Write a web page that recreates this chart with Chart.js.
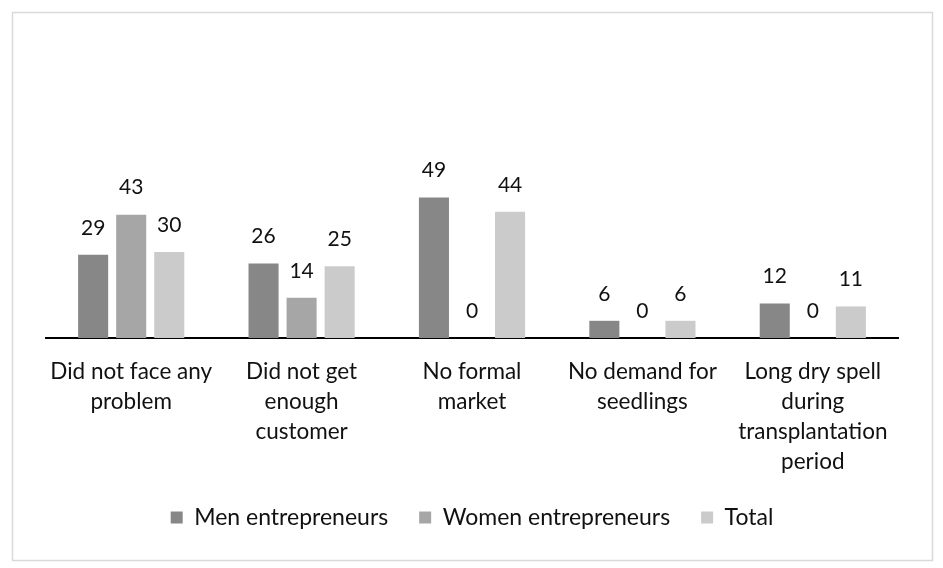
<!DOCTYPE html>
<html>
<head>
<meta charset="utf-8">
<script src="https://cdn.jsdelivr.net/npm/chart.js@4.4.0/dist/chart.umd.min.js"></script>
<style>
  html, body { margin: 0; padding: 0; background: #fff; }
  #wrap { position: absolute; left: 0; top: 0; width: 943px; height: 568px; }
</style>
</head>
<body>
<div id="wrap"><canvas id="c"></canvas></div>
<script>
const categories = [
  ["Did not face any", "problem"],
  ["Did not get", "enough", "customer"],
  ["No formal", "market"],
  ["No demand for", "seedlings"],
  ["Long dry spell", "during", "transplantation", "period"]
];
const seriesNames = ["Men entrepreneurs", "Women entrepreneurs", "Total"];
const menValues = [29, 26, 49, 6, 12];
const womenValues = [43, 14, 0, 0, 0];
const totalValues = [30, 25, 44, 6, 11];
const seriesColors = ["#878787", "#a6a6a6", "#cbcbcb"];

const FONT = "Lato, 'Open Sans', sans-serif";

const borderPlugin = {
  id: 'frame',
  beforeDraw(chart) {
    const ctx = chart.ctx;
    ctx.save();
    ctx.fillStyle = '#fff';
    ctx.fillRect(0, 0, chart.width, chart.height);
    ctx.strokeStyle = '#d9d9d9';
    ctx.lineWidth = 1.5;
    ctx.strokeRect(12.5, 12.5, 920, 548);
    ctx.restore();
  }
};

const valueLabels = {
  id: 'valueLabels',
  afterDatasetsDraw(chart) {
    const ctx = chart.ctx;
    ctx.save();
    ctx.font = "21px " + FONT;
    ctx.fillStyle = '#111';
    ctx.textAlign = 'center';
    ctx.textBaseline = 'middle';
    chart.data.datasets.forEach((ds, i) => {
      const meta = chart.getDatasetMeta(i);
      meta.data.forEach((bar, j) => {
        ctx.fillText(String(ds.data[j]), bar.x, bar.y - 27);
      });
    });
    ctx.restore();
  }
};

new Chart(document.getElementById('c'), {
  type: 'bar',
  data: {
    labels: categories,
    datasets: [
      { label: seriesNames[0], data: menValues, backgroundColor: seriesColors[0] },
      { label: seriesNames[1], data: womenValues, backgroundColor: seriesColors[1] },
      { label: seriesNames[2], data: totalValues, backgroundColor: seriesColors[2] }
    ]
  },
  options: {
    responsive: true,
    maintainAspectRatio: false,
    devicePixelRatio: 1,
    animation: false,
    layout: { padding: { left: 46, right: 45, top: 166, bottom: 29 } },
    datasets: { bar: { categoryPercentage: 0.67, barPercentage: 0.79 } },
    scales: {
      x: {
        grid: { display: false, drawTicks: false },
        border: { display: true, color: '#000', width: 2 },
        ticks: {
          color: '#111',
          font: { family: FONT, size: 22.5, lineHeight: 30 / 22.5 },
          padding: 19,
          maxRotation: 0,
          autoSkip: false
        },
        afterFit(scale) { scale.height -= 21; }
      },
      y: {
        display: false,
        min: 0,
        max: 60
      }
    },
    plugins: {
      legend: {
        position: 'bottom',
        labels: {
          color: '#111',
          font: { family: FONT, size: 23 },
          boxWidth: 12,
          boxHeight: 12,
          padding: 31
        }
      },
      tooltip: { enabled: false }
    }
  },
  plugins: [borderPlugin, valueLabels]
});
</script>
</body>
</html>
